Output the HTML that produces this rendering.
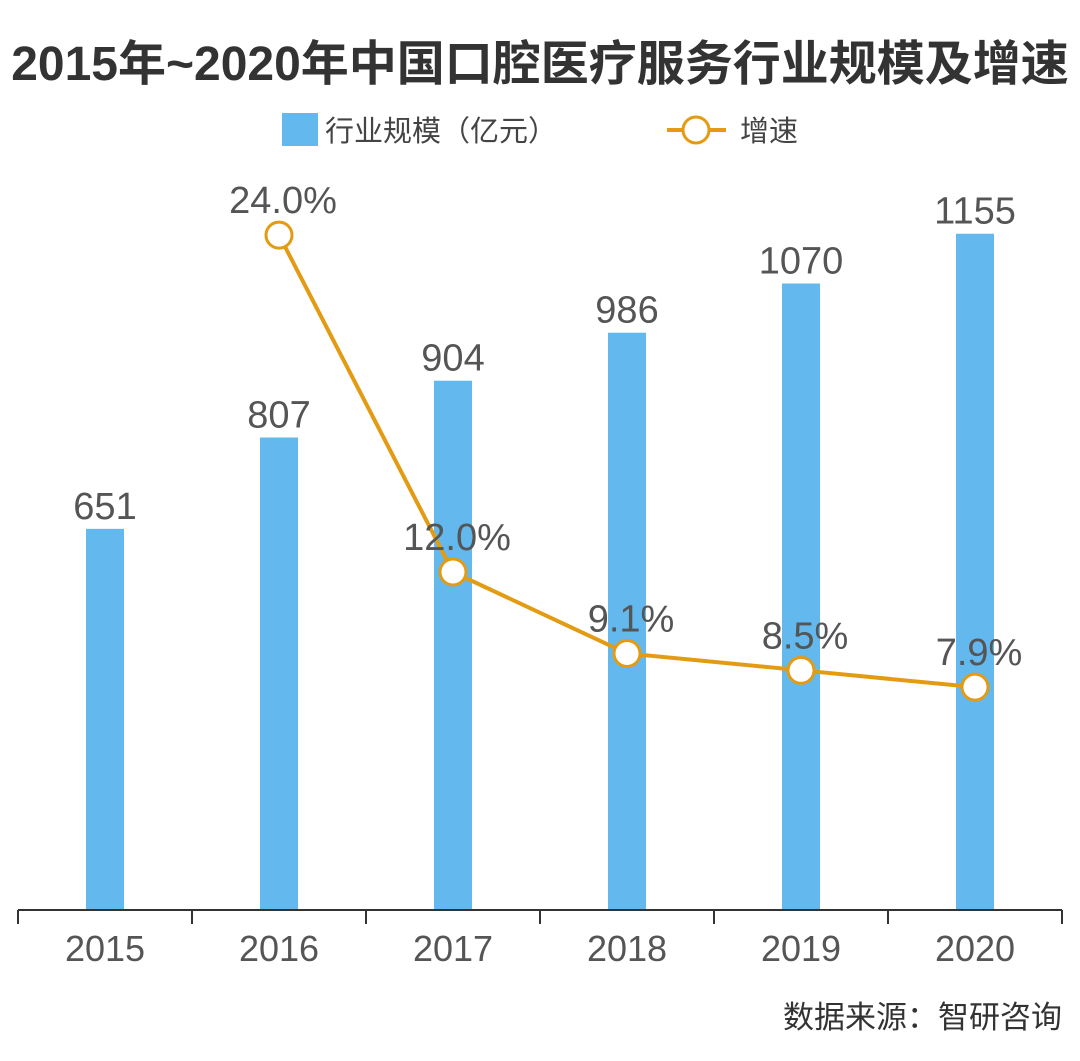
<!DOCTYPE html>
<html><head><meta charset="utf-8"><style>
body{margin:0;background:#fff;width:1080px;height:1056px;overflow:hidden;font-family:"Liberation Sans","Noto Sans CJK SC",sans-serif}
</style></head><body>
<svg width="1080" height="1056" xmlns="http://www.w3.org/2000/svg">
<text x="540" y="80" text-anchor="middle" font-size="48" font-weight="bold" fill="#333" font-family="Liberation Sans, Noto Sans CJK SC, sans-serif">2015年~2020年中国口腔医疗服务行业规模及增速</text>
<g>
<rect x="282" y="113" width="36" height="33" fill="#63b9ed"/>
<text x="325" y="141" font-size="29" fill="#444" font-family="Liberation Sans, Noto Sans CJK SC, sans-serif">行业规模（亿元）</text>
<line x1="667" y1="130" x2="726" y2="130" stroke="#e39b14" stroke-width="4"/>
<circle cx="696" cy="130" r="13" fill="#fff" stroke="#e39b14" stroke-width="3"/>
<text x="740" y="141" font-size="29" fill="#444" font-family="Liberation Sans, Noto Sans CJK SC, sans-serif">增速</text>
</g>
<g id="plot"></g>
<text x="1062" y="1028" text-anchor="end" font-size="31" fill="#333" font-family="Liberation Sans, Noto Sans CJK SC, sans-serif">数据来源：智研咨询</text>
</svg>
<script>
const categories=["2015","2016","2017","2018","2019","2020"];
const sizeValues=[651,807,904,986,1070,1155];
const growthValues=[null,24.0,12.0,9.1,8.5,7.9];
const growthLabels=["","24.0%","12.0%","9.1%","8.5%","7.9%"];

const NS="http://www.w3.org/2000/svg";
const g=document.getElementById("plot");
const x0=18,x1=1062,baseY=910;
const step=(x1-x0)/categories.length;
const xc=i=>x0+step*(i+0.5);
const yBar=v=>baseY-v*0.5855;
const yLine=v=>909-v*28.08;
function mk(t,a){const e=document.createElementNS(NS,t);for(const k in a)e.setAttribute(k,a[k]);g.appendChild(e);return e;}
const ff="Liberation Sans, Noto Sans CJK SC, sans-serif";
categories.forEach((c,i)=>{
 const v=sizeValues[i];
 const r=mk("rect",{x:xc(i)-19,y:yBar(v),width:38,height:baseY-yBar(v),fill:"#63b9ed"});
 
 
 const t=mk("text",{x:xc(i),y:yBar(v)-10,"text-anchor":"middle","font-size":38,fill:"#555","font-family":ff});
 t.textContent=v;
 
 
 const xl=mk("text",{x:xc(i),y:961,"text-anchor":"middle","font-size":36,fill:"#555","font-family":ff});
 xl.textContent=c;
 
 
});
const ax=mk("line",{x1:x0,y1:baseY,x2:x1,y2:baseY,stroke:"#333","stroke-width":2});


for(let i=0;i<=categories.length;i++){
 const tk=mk("line",{x1:x0+step*i,y1:baseY,x2:x0+step*i,y2:baseY+14,stroke:"#333","stroke-width":2});
 
 
}
let pts=[];
growthValues.forEach((v,i)=>{if(v!==null)pts.push([xc(i),yLine(v),i]);});
const pl=mk("polyline",{points:pts.map(p=>p[0]+","+p[1]).join(" "),fill:"none",stroke:"#e39b14","stroke-width":4});


pts.forEach(p=>{
 const c=mk("circle",{cx:p[0],cy:p[1],r:13,fill:"#fff",stroke:"#e39b14","stroke-width":3});
 
 
 const t=mk("text",{x:p[0]+4,y:p[1]-22,"text-anchor":"middle","font-size":38,fill:"#555","font-family":ff});
 t.textContent=growthLabels[p[2]];
 
 
});
</script>
</body></html>
